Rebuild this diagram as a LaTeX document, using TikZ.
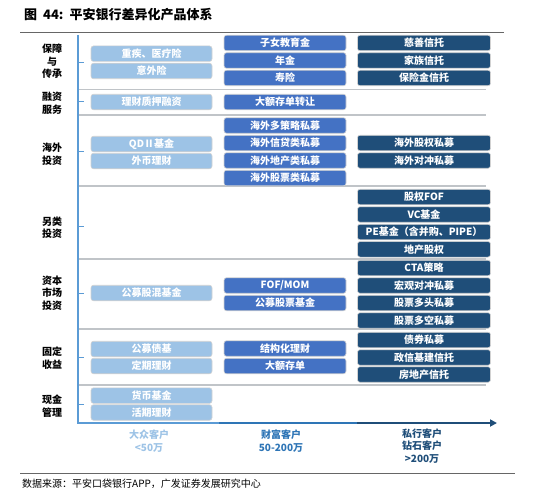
\documentclass[tikz,border=0pt]{standalone}
\usepackage{fontspec}
\setmainfont{Noto Sans CJK SC}
\usetikzlibrary{arrows.meta}
\definecolor{cA}{HTML}{9DC3E6}
\definecolor{cB}{HTML}{4472C4}
\definecolor{cC}{HTML}{1F4E79}
\definecolor{axL}{HTML}{5B9BD5}
\definecolor{axM}{HTML}{2E75B6}
\definecolor{sepc}{HTML}{C0C4C8}
\begin{document}
\begin{tikzpicture}[x=1pt,y=-1pt,
  box/.style={rounded corners=2.5pt, draw=gray!35, line width=0.6pt, text=white, minimum height=15.5pt, inner sep=0pt, font=\fontsize{10}{11}\selectfont\bfseries},
  bA/.style={box, fill=cA, minimum width=121pt},
  bB/.style={box, fill=cB, minimum width=122pt},
  bC/.style={box, fill=cC, minimum width=133pt},
  cat/.style={align=center, font=\fontsize{10}{12.5}\selectfont\bfseries, inner sep=0pt},
  sep/.style={draw=sepc, line width=1.2pt},
  tick/.style={draw=axL, line width=1pt},
  lab/.style={align=center, font=\fontsize{10}{12.5}\selectfont\bfseries, inner sep=0pt}]
\useasboundingbox (0,0) rectangle (534,500);
% title
\node[anchor=west, inner sep=0pt, font=\fontsize{13}{15}\selectfont\bfseries] (title) at (24,15) {图\ \ 44:\ \ 平安银行差异化产品体系};
\coordinate (tl1) at (20,32.5); \coordinate (tl2) at (504,32.5);
\draw[draw=gray!80!black, line width=1pt] (tl1) -- (tl2);
% separators
\foreach \y in {89.5,115,186,259,329,385}{
  \draw[sep] (78,\y) -- (486,\y);
}
% axes
\coordinate (o) at (78,423);
\coordinate (top) at (78,35);
\coordinate (m1) at (219,423);
\coordinate (m2) at (357,423);
\coordinate (xe) at (497,423);
\draw[draw=axL, line width=2.2pt] (top) -- (o);
\draw[draw=axL, line width=2.2pt] (77,423) -- (m1);
\draw[draw=axM, line width=2.2pt] (m1) -- (m2);
\draw[draw=cC, line width=2.2pt, -{Triangle[length=7pt,width=7pt]}] (m2) -- (xe);
% ticks and category labels
\foreach \y in {62.3,101.7,151.7,226.7,293,357.7,404}{
  \draw[tick] (78,\y) -- (84,\y);
}
\node[cat] (k1) at (52,61.5) {保障\\与\\传承};
\node[cat] (k2) at (52,103.5) {融资\\服务};
\node[cat] (k3) at (52,154) {海外\\投资};
\node[cat] (k4) at (52,227.5) {另类\\投资};
\node[cat] (k5) at (52,293) {资本\\市场\\投资};
\node[cat] (k6) at (52,358) {固定\\收益};
\node[cat] (k7) at (52,406) {现金\\管理};
% column A
\node[bA] (a1) at (151.5,53.7) {重疾、医疗险};
\node[bA] (a2) at (151.5,71) {意外险};
\node[bA] (a3) at (151.5,102) {理财质押融资};
\node[bA] (a4) at (151.5,144) {QDⅡ基金};
\node[bA] (a5) at (151.5,161) {外币理财};
\node[bA] (a6) at (151.5,293) {公募股混基金};
\node[bA] (a7) at (151.5,349) {公募债基};
\node[bA] (a8) at (151.5,366) {定期理财};
\node[bA] (a9) at (151.5,395.6) {货币基金};
\node[bA] (a10) at (151.5,412.5) {活期理财};
% column B
\node[bB] (b1) at (285,43) {子女教育金};
\node[bB] (b2) at (285,60.5) {年金};
\node[bB] (b3) at (285,78) {寿险};
\node[bB] (b4) at (285,102) {大额存单转让};
\node[bB] (b5) at (285,125.5) {海外多策略私募};
\node[bB] (b6) at (285,143) {海外信贷类私募};
\node[bB] (b7) at (285,160.5) {海外地产类私募};
\node[bB] (b8) at (285,178) {海外股票类私募};
\node[bB] (b9) at (285,285.5) {FOF/MOM};
\node[bB] (b10) at (285,303) {公募股票基金};
\node[bB] (b11) at (285,348.5) {结构化理财};
\node[bB] (b12) at (285,366) {大额存单};
% column C
\node[bC] (c1) at (424,43) {慈善信托};
\node[bC] (c2) at (424,60.5) {家族信托};
\node[bC] (c3) at (424,78) {保险金信托};
\node[bC] (c4) at (424,143) {海外股权私募};
\node[bC] (c5) at (424,160.5) {海外对冲私募};
\node[bC] (c6) at (424,197) {股权FOF};
\node[bC] (c7) at (424,214.5) {VC基金};
\node[bC] (c8) at (424,232) {PE基金（含并购、PIPE）};
\node[bC] (c9) at (424,249.3) {地产股权};
\node[bC] (c10) at (424,268) {CTA策略};
\node[bC] (c11) at (424,285.5) {宏观对冲私募};
\node[bC] (c12) at (424,303) {股票多头私募};
\node[bC] (c13) at (424,320.5) {股票多空私募};
\node[bC] (c14) at (424,340) {债券私募};
\node[bC] (c15) at (424,357.5) {政信基建信托};
\node[bC] (c16) at (424,374.5) {房地产信托};
% bottom labels
\node[lab, text=cA] (l1) at (149,441) {大众客户\\<50万};
\node[lab, text=axM] (l2) at (281,441) {财富客户\\50-200万};
\node[lab, text=cC] (l3) at (422,446) {私行客户\\钻石客户\\>200万};
% footer
\coordinate (bl1) at (20,473); \coordinate (bl2) at (515,473);
\draw[draw=gray!80!black, line width=0.8pt] (bl1) -- (bl2);
\node[anchor=west, inner sep=0pt, font=\fontsize{10}{12}\selectfont] (src) at (22,484) {数据来源：平安口袋银行APP，广发证券发展研究中心};
\end{tikzpicture}
\end{document}
